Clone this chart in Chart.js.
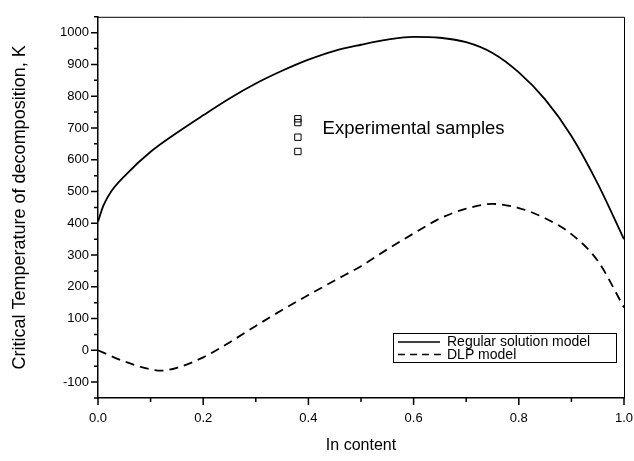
<!DOCTYPE html>
<html>
<head>
<meta charset="utf-8">
<script src="https://cdn.jsdelivr.net/npm/chart.js@4.4.1/dist/chart.umd.min.js"></script>
<style>
  body { margin: 0; background: #fff; }
  #chart { display: block; }
</style>
</head>
<body>
<canvas id="chart" width="634" height="461"></canvas>
<script>
// Regular solution model (solid)
const regularX = [0, 0.01, 0.025, 0.05, 0.1, 0.15, 0.2, 0.25, 0.3, 0.35, 0.4, 0.45, 0.5, 0.55, 0.6, 0.65, 0.7, 0.75, 0.8, 0.85, 0.9, 0.95, 1.0];
const regularT = [405, 455, 500, 548, 625, 685, 740, 793, 840, 880, 915, 943, 962, 978, 987, 984, 970, 936, 875, 790, 675, 525, 350];

// DLP model (dashed)
const dlpX = [0, 0.05, 0.1, 0.12, 0.15, 0.2, 0.25, 0.3, 0.35, 0.4, 0.45, 0.5, 0.55, 0.6, 0.65, 0.7, 0.75, 0.8, 0.85, 0.9, 0.95, 1.0];
const dlpT = [0, -35, -60, -64, -55, -22, 25, 77, 127, 174, 220, 265, 318, 368, 415, 446, 461, 448, 416, 366, 282, 135];

// experimental samples
const sampleX = [0.38, 0.38, 0.38, 0.38];
const sampleT = [729, 717, 671, 626];

const legendLabels = ['Regular solution model', 'DLP model'];
const sampleLabel = 'Experimental samples';
const xTitle = 'In content';
const yTitle = 'Critical Temperature of decomposition, K';

const FONT = "'Liberation Sans', Arial, Helvetica, sans-serif";

const toPoints = (xs, ys) => xs.map((x, i) => ({ x: x, y: ys[i] }));

const isMajorY = v => Math.round(v) % 100 === 0;
const isMajorX = v => Math.round(v * 10) % 2 === 0;

// frame, minor/major ticks, legend box and text label
const decorations = {
    id: 'decorations',
    afterDraw(chart) {
        const ctx = chart.ctx;
        const area = chart.chartArea;
        const xs = chart.scales.x;
        const ys = chart.scales.y;
        ctx.save();
        ctx.strokeStyle = '#000';

        // top and right frame
        ctx.lineWidth = 1;
        ctx.beginPath();
        ctx.moveTo(area.left, area.top + 0.5);
        ctx.lineTo(area.right + 0.5, area.top + 0.5);
        ctx.lineTo(area.right + 0.5, area.bottom);
        ctx.stroke();

        // ticks
        ctx.lineWidth = 1.5;
        ctx.beginPath();
        ys.ticks.forEach(t => {
            const py = ys.getPixelForValue(t.value);
            const len = isMajorY(t.value) ? 7 : 4;
            ctx.moveTo(area.left, py);
            ctx.lineTo(area.left - len, py);
        });
        xs.ticks.forEach(t => {
            const px = xs.getPixelForValue(t.value);
            const len = isMajorX(t.value) ? 7 : 4;
            ctx.moveTo(px, area.bottom);
            ctx.lineTo(px, area.bottom + len);
        });
        ctx.stroke();

        // annotation text
        ctx.fillStyle = '#000';
        ctx.font = '18.5px ' + FONT;
        ctx.textAlign = 'left';
        ctx.textBaseline = 'middle';
        ctx.fillText(sampleLabel, xs.getPixelForValue(0.427), ys.getPixelForValue(697));

        // legend box
        const bx = 393, by = 333, bw = 223, bh = 29;
        ctx.lineWidth = 1;
        ctx.strokeRect(bx + 0.5, by + 0.5, bw, bh);
        ctx.font = '14px ' + FONT;
        const rows = [by + 9, by + 21.5];
        ctx.lineWidth = 1.6;
        ctx.beginPath();
        ctx.setLineDash([]);
        ctx.moveTo(bx + 5, rows[0]);
        ctx.lineTo(bx + 47, rows[0]);
        ctx.stroke();
        ctx.beginPath();
        ctx.setLineDash([7, 5]);
        ctx.moveTo(bx + 5, rows[1]);
        ctx.lineTo(bx + 49, rows[1]);
        ctx.stroke();
        ctx.setLineDash([]);
        legendLabels.forEach((lbl, i) => {
            ctx.fillText(lbl, bx + 54, rows[i] + 0.5);
        });
        ctx.restore();
    }
};

const ctx = document.getElementById('chart').getContext('2d');
new Chart(ctx, {
    type: 'scatter',
    data: {
        datasets: [{
            label: legendLabels[0],
            data: toPoints(regularX, regularT),
            showLine: true,
            borderColor: '#000',
            borderWidth: 1.8,
            pointRadius: 0,
            cubicInterpolationMode: 'monotone'
        }, {
            label: legendLabels[1],
            data: toPoints(dlpX, dlpT),
            showLine: true,
            borderColor: '#000',
            borderWidth: 1.8,
            borderDash: [9, 6],
            pointRadius: 0,
            cubicInterpolationMode: 'monotone'
        }, {
            label: sampleLabel,
            data: toPoints(sampleX, sampleT),
            showLine: false,
            pointStyle: 'rect',
            pointRadius: 4.5,
            pointBackgroundColor: 'rgba(255,255,255,0)',
            pointBorderColor: '#000',
            pointBorderWidth: 1
        }]
    },
    options: {
        responsive: false,
        animation: false,
        devicePixelRatio: 1,
        layout: { padding: { left: 0, top: 6, right: 0, bottom: 0 } },
        scales: {
            x: {
                type: 'linear',
                min: 0,
                max: 1,
                afterFit: scale => {
                    scale.height = 63;
                    scale.paddingRight = 10;
                    scale.paddingLeft = 0;
                },
                border: { display: true, color: '#000', width: 1.5 },
                grid: { drawOnChartArea: false, drawTicks: false },
                ticks: {
                    stepSize: 0.1,
                    autoSkip: false,
                    maxRotation: 0,
                    padding: 13,
                    color: '#000',
                    font: { family: FONT, size: 13 },
                    callback: v => isMajorX(v) ? v.toFixed(1) : ''
                },
                title: {
                    display: true,
                    text: xTitle,
                    color: '#000',
                    font: { family: FONT, size: 16 },
                    padding: { top: 0, bottom: 6 }
                }
            },
            y: {
                min: -150,
                max: 1050,
                afterFit: scale => { scale.width = 98; },
                border: { display: true, color: '#000', width: 1.5 },
                grid: { drawOnChartArea: false, drawTicks: false },
                ticks: {
                    stepSize: 50,
                    autoSkip: false,
                    padding: 9,
                    color: '#000',
                    font: { family: FONT, size: 13 },
                    callback: v => isMajorY(v) ? v : ''
                },
                title: {
                    display: true,
                    text: yTitle,
                    color: '#000',
                    font: { family: FONT, size: 18 },
                    padding: { top: 9, bottom: 0 }
                }
            }
        },
        plugins: {
            legend: { display: false },
            tooltip: { enabled: false }
        }
    },
    plugins: [decorations]
});
</script>
</body>
</html>
